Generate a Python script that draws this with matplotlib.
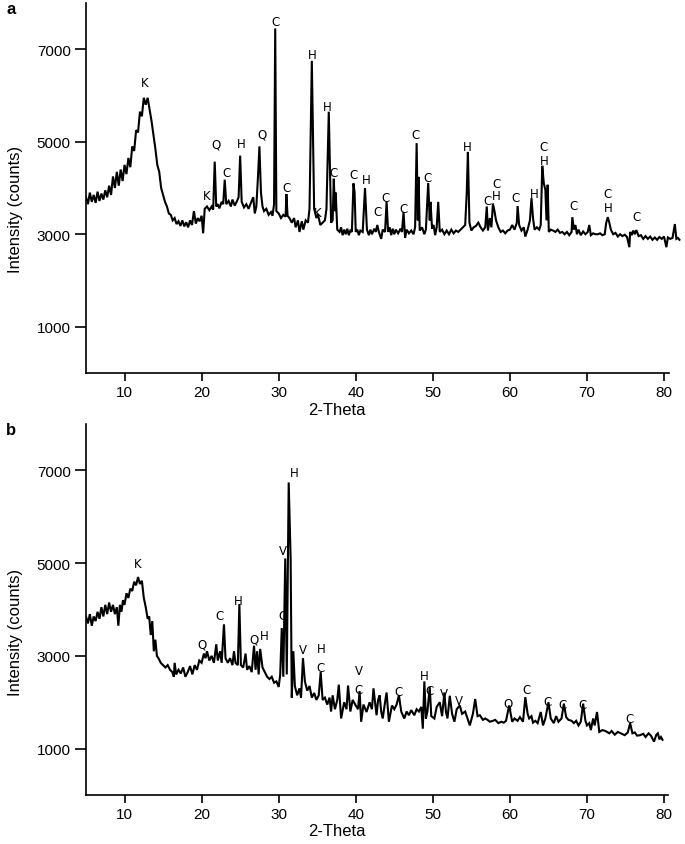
import matplotlib
matplotlib.use("Agg")
import matplotlib.pyplot as plt

# ---------------- Panel a data ----------------
theta_a = [5.0, 5.25, 5.5, 5.75, 6.0, 6.25, 6.5, 6.75, 7.0, 7.25, 7.5, 7.75, 8.0, 8.25, 8.5, 8.75,
           9.0, 9.25, 9.5, 9.75, 10.0, 10.25, 10.5, 10.75, 11.0, 11.25, 11.5, 11.75, 12.0, 12.25,
           12.5, 12.75, 13.0, 13.25, 13.5, 13.75, 14.0, 14.25, 14.5, 14.75, 15.0, 15.25, 15.5,
           15.75, 16.0, 16.25, 16.5, 16.75, 17.0, 17.25, 17.5, 17.75, 18.0, 18.25, 18.5, 18.75,
           19.0, 19.25, 19.5, 19.75, 20.0, 20.2, 20.4, 20.7, 21.0, 21.3, 21.5, 21.7, 21.9, 22.1,
           22.3, 22.6, 22.8, 23.0, 23.2, 23.5, 23.8, 24.0, 24.3, 24.6, 24.8, 25.0, 25.2, 25.5,
           25.8, 26.1, 26.4, 26.7, 26.9, 27.1, 27.3, 27.5, 27.7, 27.9, 28.1, 28.4, 28.7, 29.0,
           29.2, 29.4, 29.55, 29.7, 30.0, 30.3, 30.6, 30.9, 31.0, 31.15, 31.4, 31.7, 32.0, 32.2,
           32.5, 32.7, 33.0, 33.2, 33.5, 33.8, 34.0, 34.3, 34.6, 34.9, 35.1, 35.4, 35.7, 36.0,
           36.2, 36.5, 36.8, 37.0, 37.15, 37.3, 37.4, 37.6, 37.9, 38.1, 38.3, 38.5, 38.7, 38.9,
           39.1, 39.3, 39.5, 39.7, 39.85, 40.0, 40.2, 40.4, 40.6, 40.9, 41.2, 41.45, 41.7, 41.9,
           42.1, 42.4, 42.6, 42.8, 43.0, 43.3, 43.5, 43.8, 44.0, 44.2, 44.4, 44.6, 44.8, 45.0,
           45.2, 45.5, 45.8, 46.0, 46.2, 46.4, 46.6, 46.9, 47.2, 47.5, 47.7, 47.9, 48.05, 48.15,
           48.3, 48.6, 48.9, 49.1, 49.4, 49.6, 49.7, 49.9, 50.1, 50.3, 50.5, 50.7, 50.9, 51.2,
           51.5, 51.8, 52.1, 52.4, 52.7, 53.0, 53.3, 53.6, 53.9, 54.2, 54.4, 54.55, 54.75, 55.0,
           55.3, 55.6, 55.9, 56.2, 56.5, 56.8, 57.0, 57.15, 57.4, 57.6, 57.8, 58.0, 58.2, 58.5,
           58.8, 59.1, 59.4, 59.7, 60.0, 60.3, 60.6, 60.9, 61.0, 61.2, 61.5, 61.8, 62.0, 62.3,
           62.6, 62.8, 63.0, 63.2, 63.5, 63.8, 64.0, 64.2, 64.4, 64.6, 64.75, 64.9, 65.05, 65.3,
           65.6, 65.9, 66.2, 66.5, 66.8, 67.1, 67.4, 67.7, 68.0, 68.1, 68.3, 68.5, 68.7, 68.9,
           69.2, 69.5, 69.8, 70.1, 70.3, 70.5, 70.8, 71.1, 71.4, 71.7, 72.0, 72.3, 72.5, 72.7,
           72.9, 73.1, 73.4, 73.7, 74.0, 74.3, 74.6, 74.9, 75.2, 75.5, 75.6, 75.8, 76.0, 76.2,
           76.4, 76.7, 77.0, 77.3, 77.6, 77.9, 78.2, 78.5, 78.8, 79.1, 79.4, 79.7, 80.0, 80.3,
           80.5, 80.8, 81.1, 81.4, 81.6, 81.8, 82.0]
counts_a = [3800, 3650, 3900, 3700, 3850, 3680, 3920, 3720, 3880, 3750, 3950, 3800, 4050, 3850, 4250, 4000,
            4350, 4050, 4400, 4150, 4500, 4300, 4650, 4450, 4900, 4800, 5250, 5200, 5650, 5550,
            5950, 5800, 5950, 5700, 5450, 5150, 4850, 4500, 4350, 4000, 3850, 3700, 3600,
            3450, 3420, 3300, 3350, 3220, 3280, 3180, 3300, 3170, 3260, 3150, 3300, 3200,
            3500, 3230, 3350, 3280, 3400, 3020, 3550, 3600, 3520, 3600, 3530, 4570, 3600, 3650,
            3560, 3700, 3650, 4180, 3650, 3720, 3600, 3750, 3620, 3720, 3800, 4700, 3700, 3580,
            3650, 3550, 3680, 3800, 3450, 3600, 4200, 4900, 3900, 3600, 3500, 3550, 3420, 3480,
            3400, 3650, 7450, 3500, 3450, 3350, 3420, 3380, 3870, 3400, 3350, 3250, 3350, 3150,
            3300, 3050, 3280, 3100, 3300, 3250, 3550, 6750, 3550, 3350, 3430, 3200, 3250, 3300,
            3550, 5650, 3250, 3300, 4200, 3500, 3900, 3100, 3050, 3150, 2980, 3100, 3000, 3120,
            2980, 3080, 3050, 4100, 3900, 3050, 3100, 2980, 3080, 3050, 4000, 3100, 2980, 3100,
            3000, 3120, 3050, 3200, 3050, 2900, 3100, 3050, 3700, 3050, 3150, 2980, 3120, 3000,
            3100, 3020, 3120, 3050, 3480, 2920, 3100, 3020, 3080, 3000, 3150, 4970, 3300, 4240,
            3080, 3150, 3000, 3100, 4110, 3300, 3700, 3120, 3200, 2980, 3150, 3700, 3050, 3100,
            3000, 3080, 3000, 3100, 3020, 3080, 3050, 3100, 3150, 3200, 3900, 4780, 3250, 3080,
            3150, 3180, 3250, 3150, 3080, 3150, 3600, 3080, 3350, 3150, 3660, 3500, 3300, 3150,
            3050, 3080, 3020, 3080, 3100, 3200, 3100, 3250, 3610, 3200, 3080, 3150, 2950, 3100,
            3300, 3780, 3350, 3100, 3150, 3100, 3200, 4480, 4100, 3960, 3300, 4070, 3050, 3100,
            3080, 3050, 3100, 3030, 3050, 3000, 3050, 2980, 3050, 3370, 3100, 3200, 3000, 3100,
            2980, 3060, 3000, 3050, 3200, 2980, 3020, 3000, 3000, 3020, 2980, 3000, 3250, 3370,
            3250, 3100, 3000, 3030, 2950, 3000, 2960, 2990, 2940, 2720, 3050, 2980, 3080, 3000,
            3090, 2960, 2980, 2900, 2960, 2900, 2950, 2880, 2930, 2880, 2940, 2900, 2950, 2720,
            2930, 2900, 2920, 3220, 2900, 2920, 2880]

labels_a = ["K", "K", "Q", "C", "H", "Q", "C", "C", "H", "K", "H", "C", "C", "H", "C", "C",
            "C", "C", "C", "H", "C", "C", "H", "C", "H", "C", "H", "C", "C", "H", "C"]
label_a_x = [12.6, 20.7, 21.9, 23.2, 25.1, 27.8, 29.6, 31.0, 34.4, 35.0, 36.3, 37.1, 39.7, 41.4,
             42.8, 43.9, 46.2, 47.7, 49.3, 54.5, 57.1, 58.2, 58.2, 60.7, 63.1, 64.3, 64.4,
             68.3, 72.7, 72.7, 76.4]
label_a_y = [6290, 3830, 4960, 4330, 4960, 5170, 7600, 4020, 6890, 3470, 5770, 4330, 4300, 4190,
             3490, 3800, 3550, 5150, 4230, 4900, 3720, 4100, 3830, 3800, 3880, 4900, 4590,
             3620, 3880, 3570, 3390]

# ---------------- Panel b data ----------------
theta_b = [5.0, 5.25, 5.5, 5.75, 6.0, 6.25, 6.5, 6.75, 7.0, 7.25, 7.5, 7.75, 8.0, 8.25, 8.5, 8.75,
           9.0, 9.2, 9.4, 9.6, 9.8, 10.0, 10.25, 10.5, 10.75, 11.0, 11.25, 11.5, 11.75, 12.0, 12.25,
           12.5, 12.75, 13.0, 13.2, 13.4, 13.6, 13.8, 14.0, 14.2, 14.4, 14.7, 15.0, 15.3, 15.6,
           15.9, 16.2, 16.4, 16.5, 16.7, 17.0, 17.3, 17.6, 17.9, 18.2, 18.5, 18.8, 19.1, 19.4,
           19.7, 20.0, 20.3, 20.5, 20.7, 21.0, 21.3, 21.6, 21.9, 22.1, 22.4, 22.6, 22.9, 23.1,
           23.4, 23.7, 24.0, 24.2, 24.4, 24.7, 24.9, 25.1, 25.4, 25.7, 25.9, 26.2, 26.5, 26.8,
           27.0, 27.2, 27.4, 27.6, 27.9, 28.2, 28.5, 28.8, 29.1, 29.4, 29.7, 30.0, 30.2, 30.4,
           30.6, 30.85, 31.05, 31.3, 31.55, 31.7, 31.9, 32.1, 32.4, 32.7, 32.9, 33.15, 33.4, 33.7,
           34.0, 34.3, 34.6, 34.9, 35.2, 35.45, 35.7, 36.0, 36.3, 36.6, 36.8, 37.0, 37.3, 37.6,
           37.8, 38.1, 38.5, 38.8, 39.0, 39.3, 39.6, 40.0, 40.3, 40.5, 40.7, 41.0, 41.4, 41.8,
           42.1, 42.3, 42.7, 42.9, 43.1, 43.3, 43.5, 43.8, 44.0, 44.3, 44.7, 45.0, 45.3, 45.6,
           45.9, 46.3, 46.6, 46.9, 47.2, 47.6, 47.9, 48.2, 48.5, 48.7, 48.9, 49.1, 49.3, 49.6,
           49.8, 50.2, 50.5, 50.9, 51.2, 51.5, 51.7, 51.9, 52.2, 52.5, 52.8, 53.1, 53.5, 53.8,
           54.2, 54.5, 54.8, 55.2, 55.5, 55.8, 56.1, 56.5, 56.8, 57.1, 57.4, 57.8, 58.1, 58.5,
           58.9, 59.2, 59.5, 59.9, 60.3, 60.6, 61.0, 61.3, 61.7, 62.0, 62.3, 62.5, 62.8, 63.0,
           63.3, 63.6, 64.0, 64.3, 64.6, 65.0, 65.3, 65.7, 66.0, 66.3, 66.7, 67.0, 67.3, 67.6,
           68.0, 68.3, 68.6, 68.9, 69.2, 69.5, 69.8, 70.0, 70.3, 70.5, 70.8, 71.0, 71.3, 71.6,
           72.0, 72.4, 72.9, 73.2, 73.6, 74.0, 74.4, 74.9, 75.3, 75.6, 75.9, 76.2, 76.5, 76.9,
           77.3, 77.6, 78.0, 78.3, 78.7, 79.0, 79.2, 79.4, 79.6, 79.8]
counts_b = [3850, 3700, 3900, 3650, 3850, 3750, 3950, 3800, 4050, 3850, 4100, 3900, 4150, 3950, 4100, 3900,
            4050, 3650, 4100, 3950, 4200, 4100, 4350, 4250, 4450, 4400, 4600, 4520, 4700, 4550, 4620,
            4250, 4050, 3800, 3850, 3450, 3750, 3100, 3350, 3000, 2950, 2850, 2800, 2750, 2800,
            2700, 2650, 2550, 2850, 2600, 2700, 2620, 2750, 2550, 2650, 2780, 2600, 2800, 2700,
            2900, 2850, 3050, 2950, 3100, 2900, 3000, 2850, 3250, 2900, 3100, 2850, 3680, 2950,
            2850, 2950, 2800, 3100, 2850, 2800, 4120, 2800, 2750, 3050, 2700, 2780, 2650, 3220,
            2700, 3100, 2600, 3150, 2750, 2650, 2550, 2500, 2550, 2420, 2450, 2330, 2600, 3600,
            2550, 5100, 2600, 6740, 5100, 2100, 3100, 2350, 2150, 2300, 2100, 2950, 2450, 2250,
            2350, 2100, 2200, 2050, 2150, 2650, 2050, 2100, 1950, 2100, 1800, 2150, 1850, 2050,
            2380, 1650, 2000, 1850, 2360, 1800, 2050, 1930, 1850, 2240, 1580, 1950, 1790, 2000,
            1850, 2300, 1720, 2050, 2150, 1800, 1650, 2000, 2210, 1580, 1930, 1850, 1950, 2150,
            1800, 1650, 1800, 1720, 1830, 1720, 1850, 1800, 1900, 1430, 2450, 1650, 1800, 2330,
            1700, 1650, 1900, 2000, 1700, 2210, 1800, 1650, 2140, 1750, 1580, 1850, 1930, 1750,
            1800, 1650, 1500, 1750, 2070, 1700, 1720, 1620, 1650, 1620, 1580, 1600, 1620, 1550,
            1580, 1560, 1600, 1930, 1580, 1650, 1600, 1680, 1580, 2110, 1750, 1650, 1700, 1560,
            1600, 1550, 1790, 1500, 1650, 2000, 1650, 1550, 1700, 1580, 1650, 1970, 1680, 1620,
            1600, 1550, 1600, 1500, 1580, 1970, 1600, 1500, 1550, 1400, 1650, 1500, 1790, 1360,
            1400, 1380, 1330, 1380, 1300, 1360, 1330, 1290, 1350, 1550, 1330, 1350, 1280, 1290,
            1320, 1250, 1330, 1280, 1150, 1300, 1330, 1200, 1250, 1190]

labels_b = ["K", "Q", "C", "H", "Q", "H", "V", "C", "H", "V", "H", "C", "V", "C", "C", "H", "C",
            "V", "V", "Q", "C", "C", "C", "C", "C"]
label_b_x = [11.7, 20.1, 22.3, 24.8, 26.8, 28.1, 30.6, 30.5, 32.0, 33.1, 35.5, 35.4, 40.4, 40.4,
             45.6, 48.9, 49.6, 51.4, 53.4, 59.8, 62.2, 64.9, 66.8, 69.4, 75.5]
label_b_y = [5000, 3250, 3870, 4190, 3370, 3440, 5270, 3880, 6950, 3140, 3150, 2740, 2690, 2280,
             2230, 2580, 2260, 2180, 2040, 1990, 2280, 2020, 1950, 1950, 1660]

yticks = [1000, 3000, 5000, 7000]
xticks = [10, 20, 30, 40, 50, 60, 70, 80]

fig = plt.figure(figsize=(6.85, 8.45), dpi=100)
W, H = 685, 845

def make_axes(top_px, bottom_px):
    left, right = 86, 681
    return fig.add_axes([left / W, 1 - bottom_px / H, (right - left) / W, (bottom_px - top_px) / H])

sans = ["Liberation Sans", "DejaVu Sans"]

panels = [
    (make_axes(4, 374), theta_a, counts_a, labels_a, label_a_x, label_a_y, 80.7, -0.078, 0.446),
    (make_axes(425, 796), theta_b, counts_b, labels_b, label_b_x, label_b_y, 80.5, -0.076, 0.44),
]

for ax, tx, cy, labs, lx, ly, xend, xl_y, yl_y in panels:
    ax.plot(tx, cy, color="black", lw=1.5, solid_joinstyle="miter")
    ax.set_xlim(5, 82.2)
    ax.set_ylim(0, 8000)
    ax.spines["top"].set_visible(False)
    ax.spines["right"].set_visible(False)
    ax.spines["bottom"].set_bounds(5, xend)
    ax.spines["left"].set_linewidth(1.2)
    ax.spines["bottom"].set_linewidth(1.2)
    ax.set_xticks(xticks)
    ax.set_yticks(yticks)
    ax.tick_params(axis="y", direction="out", length=8, width=1.2, pad=3)
    ax.tick_params(axis="x", direction="out", length=6, width=1.2, pad=3)
    for t in ax.get_xticklabels() + ax.get_yticklabels():
        t.set_fontfamily(sans)
        t.set_fontsize(11)
    ax.set_xlabel("2-Theta", fontsize=12, family=sans)
    ax.xaxis.set_label_coords((337 - 86) / 595, xl_y)
    ax.set_ylabel("Intensity (counts)", fontsize=12, family=sans)
    ax.yaxis.set_label_coords(-0.106, yl_y)
    for s, x, y in zip(labs, lx, ly):
        ax.text(x, y, s, fontsize=8.5, family=["DejaVu Sans"], ha="center", va="center")

fig.text(6 / W, 1 - 9 / H, "a", fontsize=12, fontweight="bold", family=sans, ha="left", va="center")
fig.text(6 / W, 1 - 431 / H, "b", fontsize=12, fontweight="bold", family=sans, ha="left", va="center")

fig.savefig("out.png", dpi=100)
